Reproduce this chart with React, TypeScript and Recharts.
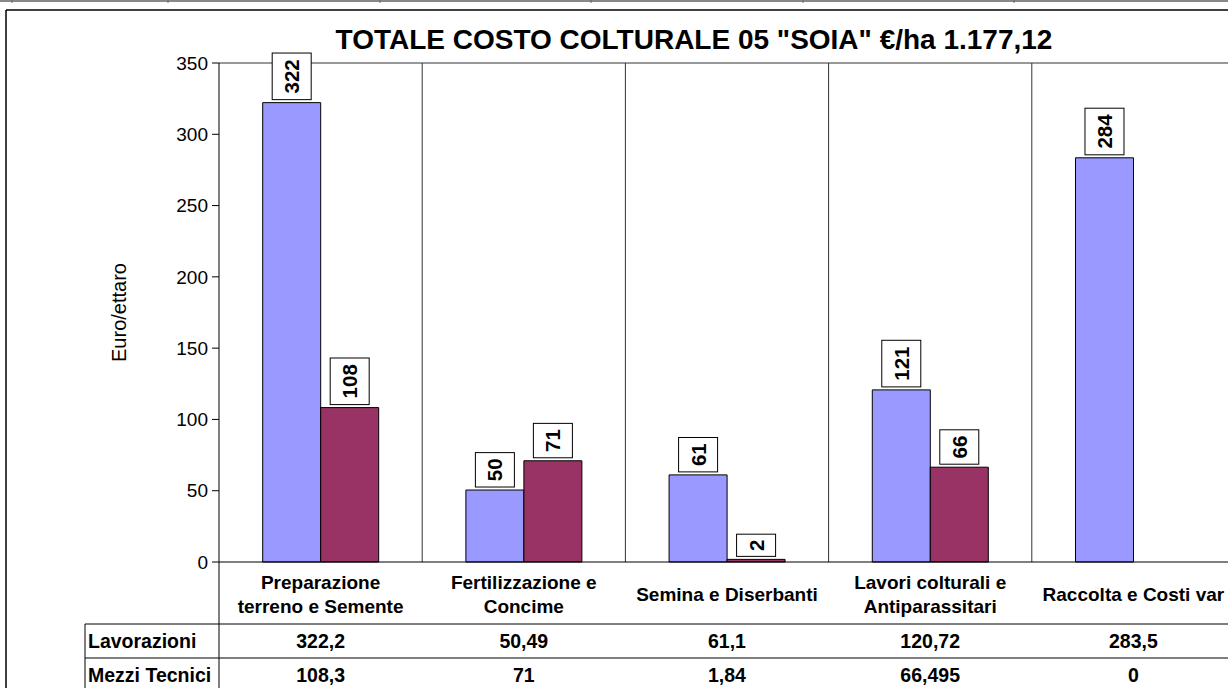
import React from 'react';
import { BarChart, Bar, XAxis, YAxis, CartesianGrid, LabelList } from 'recharts';

// category names, split on the lines they wrap on
const categoryLines = [
    ['Preparazione', 'terreno e Semente'],
    ['Fertilizzazione e', 'Concime'],
    ['Semina e Diserbanti'],
    ['Lavori colturali e', 'Antiparassitari'],
    ['Raccolta e Costi var'],
];
const lavorazioni = [322.2, 50.49, 61.1, 120.72, 283.5];
const mezziTecnici = [108.3, 71, 1.84, 66.495, 0];
const yTicks = [0, 50, 100, 150, 200, 250, 300, 350];
const title = 'TOTALE COSTO COLTURALE 05 "SOIA" €/ha 1.177,12';

const FONT = '"Liberation Sans", Arial, sans-serif';
const BLUE = '#9999FF';
const MAROON = '#993366';

const data = categoryLines.map((lines, i) => ({
    name: lines.join(' '),
    lavorazioni: lavorazioni[i],
    mezzi: mezziTecnici[i],
}));

const fmt = (v: number) => String(v).replace('.', ',');

// x axis tick: category name plus the two data-table values under it
const CategoryTick = (props: any) => {
    const { x, y, payload } = props;
    const i = payload.index;
    const lines = categoryLines[i];
    const firstY = lines.length === 1 ? y + 32 : y + 20;
    return (
        <g fontFamily={FONT} fontWeight="bold" fontSize={19} fill="#000">
            {lines.map((l, k) => (
                <text key={k} x={x} y={firstY + k * 24} textAnchor="middle" dominantBaseline="central">{l}</text>
            ))}
            <text x={x} y={y + 79} textAnchor="middle" dominantBaseline="central" fontSize={19.5}>{fmt(lavorazioni[i])}</text>
            <text x={x} y={y + 113} textAnchor="middle" dominantBaseline="central" fontSize={19.5}>{fmt(mezziTecnici[i])}</text>
        </g>
    );
};

// rotated value in a white box above the bar
const BoxLabel = (props: any) => {
    const { x, y, width, value } = props;
    const txt = String(Math.round(value));
    const cx = x + width / 2;
    const h = txt.length * 12.2 + 10;
    const bottom = y - 3;
    const cy = bottom - h / 2;
    return (
        <g>
            <rect x={cx - 19.5} y={bottom - h} width={39} height={h} fill="#fff" stroke="#000" strokeWidth={1} />
            <text x={cx} y={cy} textAnchor="middle" dominantBaseline="central" transform={`rotate(-90 ${cx} ${cy})`}
                fontFamily={FONT} fontWeight="bold" fontSize={20.5} fill="#000">{txt}</text>
        </g>
    );
};

const stripLines = [12, 168, 380, 591, 803, 1014];

export default function App() {
    return (
        <div style={{ position: 'absolute', left: 0, top: 0, width: 1228, height: 688, overflow: 'hidden', background: '#fff' }}>
            <BarChart width={1245} height={688} data={data} margin={{ top: 63, right: 10, bottom: 0, left: 0 }}
                barCategoryGap="21.5%" barGap={0}>
                <CartesianGrid
                    stroke="#333"
                    verticalCoordinatesGenerator={({ offset }: any) => [1, 2, 3, 4, 5].map(k => offset.left + (k * offset.width) / 5)}
                    horizontalCoordinatesGenerator={({ offset }: any) => [offset.top]}
                />
                <XAxis dataKey="name" interval={0} height={126} tickLine={false} tickSize={0} tickMargin={0}
                    axisLine={{ stroke: '#000' }} tick={<CategoryTick />} />
                <YAxis width={219} domain={[0, 350]} ticks={yTicks} tickSize={7} tickMargin={4}
                    axisLine={{ stroke: '#000' }} tickLine={{ stroke: '#000' }}
                    tick={{ fontFamily: FONT, fontSize: 19, fill: '#000' }}
                    label={{ value: 'Euro/ettaro', angle: -90, position: 'center', dx: 9, fontFamily: FONT, fontSize: 20, fill: '#000' }} />
                <Bar dataKey="lavorazioni" fill={BLUE} stroke="#000" strokeWidth={1} isAnimationActive={false}>
                    <LabelList dataKey="lavorazioni" content={<BoxLabel />} />
                </Bar>
                <Bar dataKey="mezzi" fill={MAROON} stroke="#000" strokeWidth={1} isAnimationActive={false}>
                    <LabelList dataKey="mezzi" content={<BoxLabel />} />
                </Bar>
            </BarChart>
            <svg width={1228} height={688} style={{ position: 'absolute', left: 0, top: 0, pointerEvents: 'none' }}>
                {/* spreadsheet strip above the chart */}
                <line x1={0} y1={1} x2={1228} y2={1} stroke="#888" strokeWidth={2} />
                {stripLines.map(x => <line key={x} x1={x} y1={0} x2={x} y2={3} stroke="#666" />)}
                <line x1={6} y1={10} x2={1228} y2={10} stroke="#000" strokeWidth={1.5} />
                <line x1={6} y1={10} x2={6} y2={688} stroke="#000" strokeWidth={1.5} />
                <text x={694} y={49} textAnchor="middle" fontFamily={FONT} fontWeight="bold" fontSize={28} fill="#000">{title}</text>
                {/* data table frame */}
                <line x1={85} y1={624} x2={1228} y2={624} stroke="#000" />
                <line x1={85} y1={658} x2={1228} y2={658} stroke="#000" />
                <line x1={85} y1={624} x2={85} y2={688} stroke="#000" />
                <line x1={219} y1={562} x2={219} y2={688} stroke="#000" />
                <text x={88} y={641} dominantBaseline="central" fontFamily={FONT} fontWeight="bold" fontSize={19.5} fill="#000">Lavorazioni</text>
                <text x={88} y={675} dominantBaseline="central" fontFamily={FONT} fontWeight="bold" fontSize={19.5} fill="#000">Mezzi Tecnici</text>
            </svg>
        </div>
    );
}
